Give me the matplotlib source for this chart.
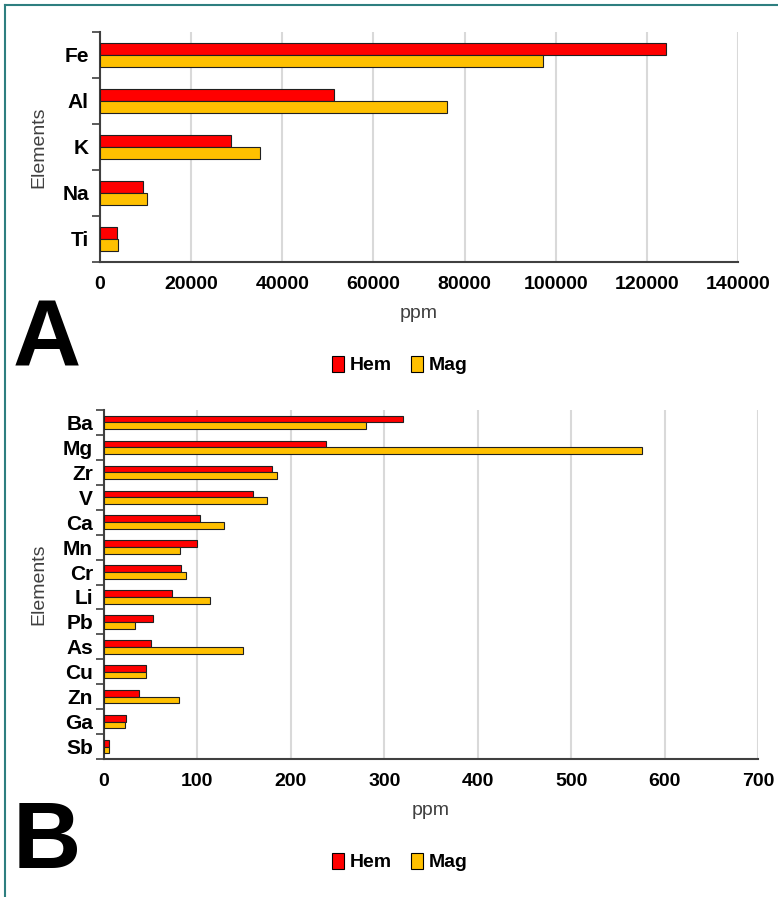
import matplotlib
matplotlib.use("Agg")
import matplotlib.pyplot as plt
from matplotlib import font_manager
from matplotlib.lines import Line2D
from matplotlib.patches import Patch

# major elements (panel A) and trace elements (panel B), ppm
major_elements = ["Fe", "Al", "K", "Na", "Ti"]
major_hem = [124300, 51300, 28800, 9400, 3800]
major_mag = [97200, 76100, 35000, 10400, 3900]

trace_elements = ["Ba", "Mg", "Zr", "V", "Ca", "Mn", "Cr", "Li", "Pb", "As",
                  "Cu", "Zn", "Ga", "Sb"]
trace_hem = [320, 238, 180, 160, 103, 100, 82, 73, 52, 50, 45, 37, 24, 5]
trace_mag = [280, 576, 185, 174, 128, 81, 88, 113, 33, 149, 45, 80, 22, 5]

HEM_COLOR = "#ff0000"
MAG_COLOR = "#ffc000"

installed = {f.name for f in font_manager.fontManager.ttflist}
narrow = "Liberation Sans Narrow" if "Liberation Sans Narrow" in installed else "Liberation Sans"
plt.rcParams["font.family"] = ["Liberation Sans", "DejaVu Sans"]

W, H = 778, 897
fig = plt.figure(figsize=(W / 100, H / 100), dpi=100)


def px_axes(left, top, right, bottom):
    return fig.add_axes([left / W, 1 - bottom / H, (right - left) / W, (bottom - top) / H])


def draw_panel(ax, names, hem, mag, xmax, step, bar_h, left_px):
    n = len(names)
    pos = list(range(n))
    ax.barh([p - bar_h / 2 for p in pos], hem, height=bar_h, color=HEM_COLOR,
            edgecolor="#202020", linewidth=0.8, zorder=3)
    ax.barh([p + bar_h / 2 for p in pos], mag, height=bar_h, color=MAG_COLOR,
            edgecolor="#202020", linewidth=0.8, zorder=3)
    ax.set_ylim(n - 0.5, -0.5)
    ax.set_xlim(0, xmax)
    ax.set_xticks(range(0, xmax + 1, step))
    ax.set_yticks(pos)
    ax.set_yticklabels(names, fontfamily=narrow, fontweight="bold", fontsize=15)
    ax.set_yticks([p - 0.5 for p in range(n + 1)], minor=True)
    ax.tick_params(axis="y", which="major", length=0, pad=8)
    ax.tick_params(axis="y", which="minor", length=6, width=1.2, color="#404040")
    ax.tick_params(axis="x", length=0, pad=10)
    for lab in ax.get_xticklabels():
        lab.set_fontfamily(narrow)
        lab.set_fontweight("bold")
        lab.set_fontsize(14)
    ax.grid(axis="x", color="#d9d9d9", linewidth=1.5, zorder=0)
    ax.set_axisbelow(True)
    for side in ("top", "right"):
        ax.spines[side].set_visible(False)
    for side in ("left", "bottom"):
        ax.spines[side].set_color("#404040")
        ax.spines[side].set_linewidth(1.5)
    ax.set_ylabel("Elements", fontsize=14, color="#404040")
    width_px = ax.get_position().width * W
    ax.yaxis.set_label_coords((47 - left_px) / width_px, 0.5)
    ax.set_xlabel("ppm", fontsize=14, color="#404040", labelpad=9)


def add_legend(y):
    handles = [Patch(facecolor=HEM_COLOR, edgecolor="black", linewidth=0.8),
               Patch(facecolor=MAG_COLOR, edgecolor="black", linewidth=0.8)]
    fig.legend(handles, ["Hem", "Mag"], loc="center", bbox_to_anchor=(400 / W, 1 - y / H),
               ncol=2, frameon=False, handlelength=0.6, handleheight=0.9,
               handletextpad=0.3, columnspacing=1.0,
               prop={"family": narrow, "weight": "bold", "size": 14})


ax_a = px_axes(100, 32, 738, 262)
draw_panel(ax_a, major_elements, major_hem, major_mag, 140000, 20000, 0.255, 100)
add_legend(365)

ax_b = px_axes(104, 410, 758, 759)
draw_panel(ax_b, trace_elements, trace_hem, trace_mag, 700, 100, 0.27, 104)
add_legend(862)

fig.text(13 / W, 1 - 366 / H, "A", fontsize=68, fontweight="bold", va="baseline", ha="left")
fig.text(13 / W, 1 - 868 / H, "B", fontsize=68, fontweight="bold", va="baseline", ha="left")

# teal frame along the top and left edges
fig.add_artist(Line2D([5 / W, 1], [1 - 5 / H, 1 - 5 / H], color="#2e7f80", linewidth=1.5))
fig.add_artist(Line2D([5 / W, 5 / W], [0, 1 - 5 / H], color="#2e7f80", linewidth=1.5))

fig.savefig("out.png", dpi=100)
